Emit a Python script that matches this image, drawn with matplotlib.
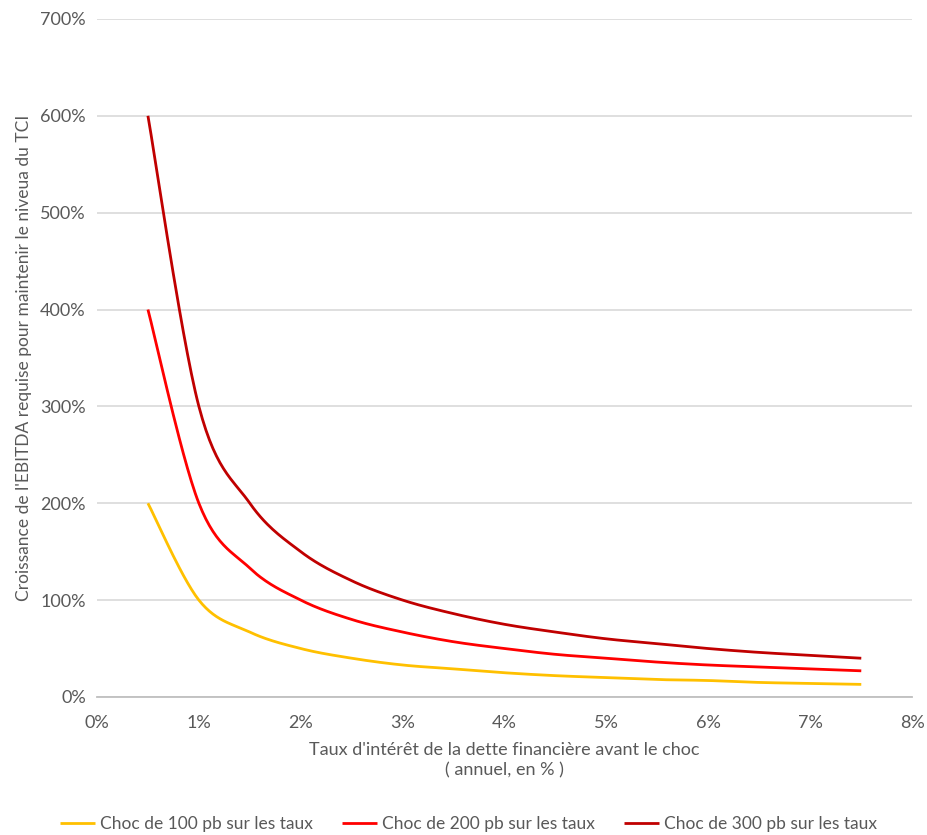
import numpy as np
import matplotlib
matplotlib.use("Agg")
import matplotlib.pyplot as plt
from matplotlib.ticker import FuncFormatter

plt.rcParams['font.family'] = ['Lato', 'DejaVu Sans']

# taux d'intérêt avant le choc (%)
taux = [0.5, 1.0, 1.5, 2.0, 2.5, 3.0, 3.5, 4.0, 4.5, 5.0, 5.5, 6.0, 6.5, 7.0, 7.5]

# croissance de l'EBITDA requise (%)
choc_100 = [200, 100, 67, 50, 40, 33, 29, 25, 22, 20, 18, 17, 15, 14, 13]
choc_200 = [400, 200, 133, 100, 80, 67, 57, 50, 44, 40, 36, 33, 31, 29, 27]
choc_300 = [600, 300, 200, 150, 120, 100, 86, 75, 67, 60, 55, 50, 46, 43, 40]

labels = ["Choc de 100 pb sur les taux",
          "Choc de 200 pb sur les taux",
          "Choc de 300 pb sur les taux"]
colors = ["#FFC000", "#FF0000", "#C00000"]


# lissage façon Excel (Bézier cubique, points de contrôle à 1/6)
def smooth(x, y, n=30):
    p = np.column_stack([x, y]).astype(float)
    out = []
    for i in range(len(p) - 1):
        p0 = p[i - 1] if i > 0 else p[i]
        p3 = p[i + 2] if i + 2 < len(p) else p[i + 1]
        c1 = p[i] + (p[i + 1] - p0) / 6
        c2 = p[i + 1] - (p3 - p[i]) / 6
        t = np.linspace(0, 1, n)[:, None]
        seg = ((1 - t) ** 3 * p[i] + 3 * (1 - t) ** 2 * t * c1
               + 3 * (1 - t) * t ** 2 * c2 + t ** 3 * p[i + 1])
        out.append(seg if i == 0 else seg[1:])
    out = np.vstack(out)
    return out[:, 0], out[:, 1]


fig = plt.figure(figsize=(9.28, 8.35), dpi=100)
ax = fig.add_axes([0.1045, 0.1653, 0.8785, 0.812])

for serie, lab, col in zip([choc_100, choc_200, choc_300], labels, colors):
    sx, sy = smooth(taux, serie)
    ax.plot(sx, sy, color=col, linewidth=2.0, label=lab, solid_capstyle="butt")

ax.set_xlim(0, 8)
ax.set_ylim(0, 700)
ax.set_xticks(range(0, 9))
ax.set_yticks(range(0, 701, 100))
ax.xaxis.set_major_formatter(FuncFormatter(lambda v, _: f"{v:.0f}%"))
ax.yaxis.set_major_formatter(FuncFormatter(lambda v, _: f"{v:.0f}%"))
ax.grid(axis="y", color="#D9D9D9", linewidth=1.2)
ax.set_axisbelow(True)
for s in ["top", "right", "left"]:
    ax.spines[s].set_visible(False)
ax.spines["bottom"].set_color("#BFBFBF")
ax.spines["bottom"].set_linewidth(1.3)
ax.tick_params(length=0, labelsize=13, colors="#595959", pad=8)
ax.tick_params(axis="x", pad=13)

ax.set_xlabel("Taux d'intérêt de la dette financière avant le choc\n( annuel, en % )",
              fontsize=13, color="#595959", labelpad=8, linespacing=1.3)
ax.set_ylabel("Croissance de l'EBITDA requise pour maintenir le niveua du TCI",
              fontsize=12.5, color="#595959", labelpad=6)

fig.legend(loc="lower center", bbox_to_anchor=(0.505, -0.015), ncol=3, frameon=False,
           fontsize=12.5, labelcolor="#595959", handlelength=2.0, handletextpad=0.3,
           columnspacing=1.7)

plt.savefig("out.png", dpi=100)
plt.close()
